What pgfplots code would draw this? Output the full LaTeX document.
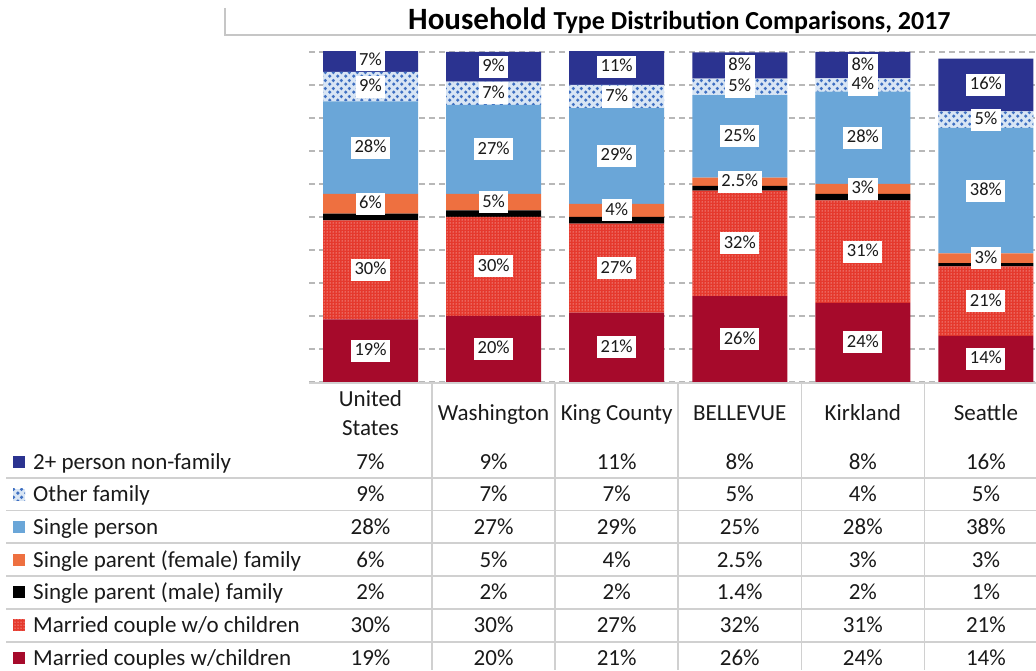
\documentclass[border=0pt]{standalone}
\usepackage{pgfplots}
\pgfplotsset{compat=1.18}
\usepackage{pgfplotstable}
\usetikzlibrary{patterns,patterns.meta}
\usepackage{fontspec}
\setmainfont{Carlito}

\definecolor{cnf}{HTML}{2B3390}
\definecolor{cofbg}{HTML}{D8E5F4}
\definecolor{cof}{HTML}{3F70C2}
\definecolor{csp}{HTML}{6AA6D8}
\definecolor{cspf}{HTML}{EE7040}
\definecolor{cmwo}{HTML}{E5392D}
\definecolor{cmc}{HTML}{A60A2B}
\definecolor{cgrid}{HTML}{B8B8B8}
\definecolor{cline}{HTML}{D0D0D0}
\definecolor{ctxt}{HTML}{1A1A1A}

\tikzdeclarepattern{
  name=bubbles, type=uncolored,
  bottom left={(0pt,0pt)}, top right={(8pt,8pt)}, tile size={(8pt,8pt)},
  code={
    \pgfpathcircle{\pgfpoint{2pt}{2pt}}{1.95pt}
    \pgfpathcircle{\pgfpoint{6pt}{6pt}}{1.95pt}
    \pgfusepath{fill}
  }
}

\pgfplotstableread{
x mc mwo spm spf sp of nf
0 19 30 2 6 28 9 7
1 20 30 2 5 27 7 9
2 21 27 2 4 29 7 11
3 26 32 1.4 2.5 25 5 8
4 24 31 2 3 28 4 8
5 14 21 1 3 38 5 16
}\data

\newcommand\tabfont{\fontsize{23}{28}\selectfont}
\newcommand\labfont{\fontsize{18.5}{22}\selectfont}

\begin{document}
\begin{tikzpicture}[x=1pt,y=1pt]
\useasboundingbox (0,0) rectangle (1036,670);
\clip (0,0) rectangle (1036,670);

% title
\draw[gray!45, line width=1.2pt] (225,662) -- (225,635) -- (1036,635);
\node[anchor=base west, inner sep=0, text=black] at (408,640)
  {\fontsize{31}{34}\selectfont\bfseries Household \fontsize{26}{30}\selectfont Type Distribution Comparisons, 2017};

\begin{axis}[
  at={(309pt,288pt)}, anchor=south west,
  scale only axis, width=738.5pt, height=330pt,
  ybar stacked, bar width=95pt,
  xmin=-0.5, xmax=5.5, ymin=0, ymax=100,
  xtick=\empty, ytick={0,10,...,100}, yticklabels={},
  ymajorgrids, grid style={dash pattern=on 6pt off 4pt, line width=2pt, cgrid},
  axis line style={draw=none}, tick style={draw=none},
]
\addplot[fill=cmc, draw=none] table[x=x,y=mc]{\data};
\addplot[fill=cmwo, draw=none, postaction={pattern=dots, pattern color=white}] table[x=x,y=mwo]{\data};
\addplot[fill=black, draw=none] table[x=x,y=spm]{\data};
\addplot[fill=cspf, draw=none] table[x=x,y=spf]{\data};
\addplot[fill=csp, draw=none] table[x=x,y=sp]{\data};
\addplot[fill=cofbg, draw=none, postaction={pattern=bubbles, pattern color=cof}] table[x=x,y=of]{\data};
\addplot[fill=cnf, draw=none] table[x=x,y=nf]{\data};
\end{axis}

\begin{axis}[
  at={(309pt,288pt)}, anchor=south west,
  scale only axis, width=738.5pt, height=330pt,
  xmin=-0.5, xmax=5.5, ymin=0, ymax=100, hide axis, clip=false,
  point meta=explicit symbolic,
  nodes near coords={\pgfplotspointmeta\%},
  every node near coord/.append style={anchor=center, fill=white, inner xsep=3.5pt, inner ysep=2.5pt, text height=13.5pt, text depth=3.5pt, font=\labfont, text=ctxt},
]
\addplot[draw=none, mark=none] table[x=x, y expr=\thisrow{mc}/2, meta=mc]{\data};
\addplot[draw=none, mark=none] table[x=x, y expr=\thisrow{mc}+\thisrow{mwo}/2, meta=mwo]{\data};
\addplot[draw=none, mark=none] table[x=x, y expr=\thisrow{mc}+\thisrow{mwo}+\thisrow{spm}+\thisrow{spf}/2, meta=spf]{\data};
\addplot[draw=none, mark=none] table[x=x, y expr=\thisrow{mc}+\thisrow{mwo}+\thisrow{spm}+\thisrow{spf}+\thisrow{sp}/2, meta=sp]{\data};
\addplot[draw=none, mark=none] table[x=x, y expr=\thisrow{mc}+\thisrow{mwo}+\thisrow{spm}+\thisrow{spf}+\thisrow{sp}+\thisrow{of}/2, meta=of]{\data};
\addplot[draw=none, mark=none] table[x=x, y expr=\thisrow{mc}+\thisrow{mwo}+\thisrow{spm}+\thisrow{spf}+\thisrow{sp}+\thisrow{of}+\thisrow{nf}/2, meta=nf]{\data};
\end{axis}

% axis base line and table grid
\draw[cline, line width=1.6pt] (309,287) -- (1036,287);
\foreach \k in {1,...,5} {
  \draw[cline, line width=1.5pt] ({309+123.08*\k},287) -- ({309+123.08*\k},0);
}
\foreach \yy in {192,159.5,127,94,61,28} {
  \draw[cline, line width=1.5pt] (6,\yy) -- (1036,\yy);
}

% header
\node[anchor=base, inner sep=0, font=\tabfont, text=ctxt] at (370.5,263.6) {United};
\node[anchor=base, inner sep=0, font=\tabfont, text=ctxt] at (370.5,234.6) {States};
\foreach \nm [count=\i from 1] in {Washington, King County, BELLEVUE, Kirkland, Seattle} {
  \node[anchor=base, inner sep=0, font=\tabfont, text=ctxt] at ({370.5+123.08*\i},249.6) {\nm};
}

% values
\foreach \col/\yc in {nf/208, of/175.5, sp/143, spf/110, spm/78, mwo/45, mc/12} {
  \foreach \r in {0,...,5} {
    \pgfplotstablegetelem{\r}{\col}\of\data
    \node[anchor=base, inner sep=0, font=\tabfont, text=ctxt] at ({370.5+123.08*\r},{\yc-7.4}) {\pgfplotsretval\%};
  }
}

% legend column
\foreach \nm/\yc in {{2+ person non-family}/208, {Other family}/175.5, {Single person}/143, {Single parent (female) family}/110, {Single parent (male) family}/78, {Married couple w/o children}/45, {Married couples w/children}/12} {
  \node[anchor=base west, inner sep=0, font=\tabfont, text=ctxt] at (33,{\yc-7.4}) {\nm};
}
\fill[cnf] (13,202) rectangle (25,214);
\fill[cofbg] (13,169.5) rectangle (25,181.5);
\fill[pattern=bubbles, pattern color=cof] (13,169.5) rectangle (25,181.5);
\fill[csp] (13,137) rectangle (25,149);
\fill[cspf] (13,104) rectangle (25,116);
\fill[black] (13,72) rectangle (25,84);
\fill[cmwo] (13,39) rectangle (25,51);
\fill[pattern=dots, pattern color=white] (13,39) rectangle (25,51);
\fill[cmc] (13,6) rectangle (25,18);
\end{tikzpicture}
\end{document}
